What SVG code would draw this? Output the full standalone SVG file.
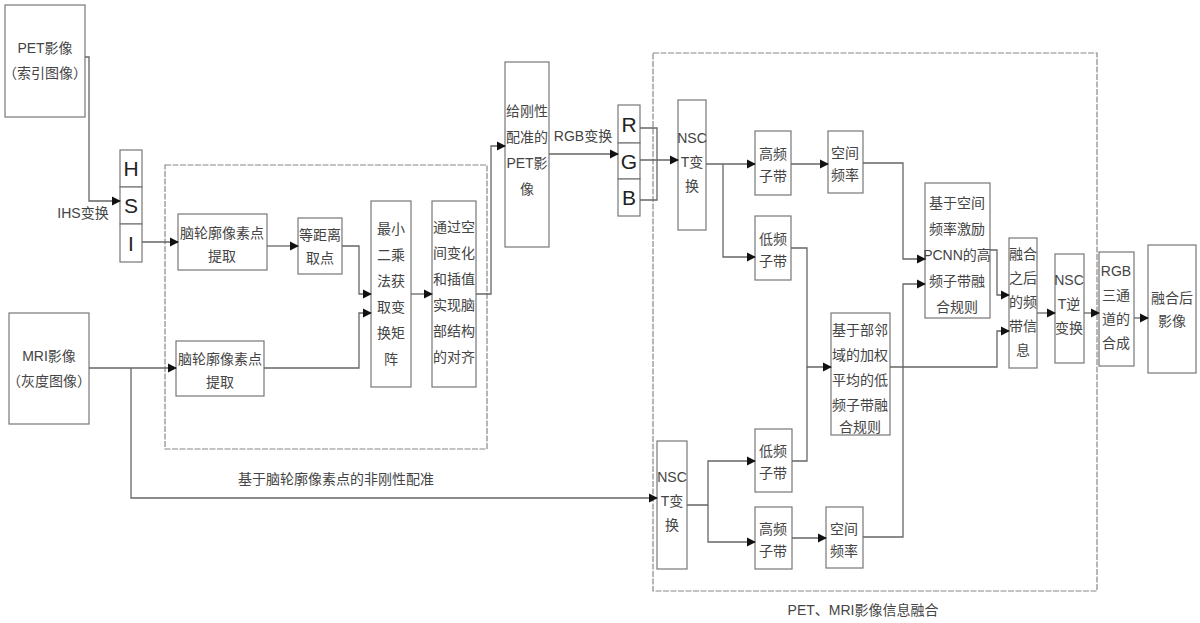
<svg xmlns="http://www.w3.org/2000/svg" width="1200" height="623" viewBox="0 0 1200 623">
<defs>
<marker id="a" viewBox="0 0 10 10" refX="9" refY="5" markerWidth="7" markerHeight="7" orient="auto"><path d="M0,0L10,5L0,10z" fill="#111"/></marker>
<style>
.b{fill:#fff;stroke:#777;stroke-width:1.2}
.g{fill:none;stroke:#888;stroke-width:1.2;stroke-dasharray:6 1.5}
.t{font-family:"Liberation Sans","Noto Sans CJK SC",sans-serif;font-size:14px;fill:#444;text-anchor:middle}
.l{fill:none;stroke:#666;stroke-width:1.3}
.big{font-size:21px;fill:#222}
</style>
</defs>
<rect width="1200" height="623" fill="#fff"/>
<g id="groups">
<rect class="g" x="165" y="165" width="322" height="284"/>
<rect class="g" x="653" y="53" width="444" height="538"/>
<text class="t" x="336" y="484" font-size="15">基于脑轮廓像素点的非刚性配准</text>
<text class="t" x="863" y="615">PET、MRI影像信息融合</text>
</g>
<g id="pet"><rect class="b" x="5" y="5" width="80" height="112"/><text class="t"><tspan x="45" y="53">PET影像</tspan><tspan x="45" y="78">（索引图像）</tspan></text></g>
<g id="mri"><rect class="b" x="9" y="313" width="80" height="111"/><text class="t"><tspan x="49" y="361">MRI影像</tspan><tspan x="49" y="386">（灰度图像）</tspan></text></g>
<g id="hsi"><rect class="b" x="120" y="150" width="22" height="37"/><rect class="b" x="120" y="187" width="22" height="37"/><rect class="b" x="120" y="224" width="22" height="38"/>
<text class="t big" x="131" y="176">H</text><text class="t big" x="131" y="213">S</text><text class="t big" x="131" y="251">I</text></g>
<text class="t" x="83" y="218">IHS变换</text>
<g id="ext1"><rect class="b" x="178" y="214" width="89" height="56"/><text class="t"><tspan x="222" y="238">脑轮廓像素点</tspan><tspan x="222" y="261">提取</tspan></text></g>
<g id="ext2"><rect class="b" x="176" y="341" width="88" height="55"/><text class="t"><tspan x="220" y="364">脑轮廓像素点</tspan><tspan x="220" y="387">提取</tspan></text></g>
<g id="equi"><rect class="b" x="298" y="218" width="44" height="56"/><text class="t"><tspan x="320" y="240">等距离</tspan><tspan x="320" y="263">取点</tspan></text></g>
<g id="ls"><rect class="b" x="371" y="201" width="40" height="186"/><text class="t"><tspan x="391" y="234">最小</tspan><tspan x="391" y="260">二乘</tspan><tspan x="391" y="286">法获</tspan><tspan x="391" y="312">取变</tspan><tspan x="391" y="338">换矩</tspan><tspan x="391" y="364">阵</tspan></text></g>
<g id="align"><rect class="b" x="432" y="201" width="44" height="186"/><text class="t"><tspan x="454" y="232">通过空</tspan><tspan x="454" y="258">间变化</tspan><tspan x="454" y="284">和插值</tspan><tspan x="454" y="310">实现脑</tspan><tspan x="454" y="336">部结构</tspan><tspan x="454" y="362">的对齐</tspan></text></g>
<g id="rigid"><rect class="b" x="505" y="62" width="44" height="185"/><text class="t"><tspan x="527" y="116">给刚性</tspan><tspan x="527" y="142">配准的</tspan><tspan x="527" y="168">PET影</tspan><tspan x="527" y="194">像</tspan></text></g>
<text class="t" x="583" y="141">RGB变换</text>
<g id="rgb"><rect class="b" x="618" y="105" width="22" height="38"/><rect class="b" x="618" y="143" width="22" height="36"/><rect class="b" x="618" y="179" width="22" height="37"/>
<text class="t big" x="629" y="132">R</text><text class="t big" x="629" y="169">G</text><text class="t big" x="629" y="205">B</text></g>
<g id="nsct1"><rect class="b" x="678" y="100" width="28" height="130"/><text class="t"><tspan x="692" y="143">NSC</tspan><tspan x="692" y="167">T变</tspan><tspan x="692" y="191">换</tspan></text></g>
<g id="hf1"><rect class="b" x="755" y="131" width="36" height="64"/><text class="t"><tspan x="773" y="159">高频</tspan><tspan x="773" y="181">子带</tspan></text></g>
<g id="lf1"><rect class="b" x="755" y="216" width="36" height="64"/><text class="t"><tspan x="773" y="244">低频</tspan><tspan x="773" y="266">子带</tspan></text></g>
<g id="sf1"><rect class="b" x="828" y="131" width="35" height="62"/><text class="t"><tspan x="845" y="158">空间</tspan><tspan x="845" y="180">频率</tspan></text></g>
<g id="pcnn"><rect class="b" x="925" y="183" width="65" height="135"/><text class="t"><tspan x="957" y="208">基于空间</tspan><tspan x="957" y="234">频率激励</tspan><tspan x="957" y="260">PCNN的高</tspan><tspan x="957" y="286">频子带融</tspan><tspan x="957" y="312">合规则</tspan></text></g>
<g id="lowrule"><rect class="b" x="831" y="313" width="59" height="122"/><text class="t"><tspan x="860" y="335">基于部邻</tspan><tspan x="860" y="360">域的加权</tspan><tspan x="860" y="385">平均的低</tspan><tspan x="860" y="410">频子带融</tspan><tspan x="860" y="432">合规则</tspan></text></g>
<g id="fused"><rect class="b" x="1009" y="238" width="28" height="130"/><text class="t"><tspan x="1023" y="259">融合</tspan><tspan x="1023" y="283">之后</tspan><tspan x="1023" y="307">的频</tspan><tspan x="1023" y="331">带信</tspan><tspan x="1023" y="355">息</tspan></text></g>
<g id="insct"><rect class="b" x="1055" y="254" width="29" height="109"/><text class="t"><tspan x="1069" y="285">NSC</tspan><tspan x="1069" y="309">T逆</tspan><tspan x="1069" y="333">变换</tspan></text></g>
<g id="rgbc"><rect class="b" x="1099" y="252" width="35" height="114"/><text class="t"><tspan x="1116" y="276">RGB</tspan><tspan x="1116" y="300">三通</tspan><tspan x="1116" y="324">道的</tspan><tspan x="1116" y="348">合成</tspan></text></g>
<g id="out"><rect class="b" x="1148" y="245" width="48" height="128"/><text class="t"><tspan x="1172" y="303">融合后</tspan><tspan x="1172" y="326">影像</tspan></text></g>
<g id="nsct2"><rect class="b" x="657" y="441" width="30" height="128"/><text class="t"><tspan x="672" y="482">NSC</tspan><tspan x="672" y="506">T变</tspan><tspan x="672" y="530">换</tspan></text></g>
<g id="lf2"><rect class="b" x="755" y="429" width="37" height="63"/><text class="t"><tspan x="773" y="456">低频</tspan><tspan x="773" y="478">子带</tspan></text></g>
<g id="hf2"><rect class="b" x="755" y="507" width="37" height="62"/><text class="t"><tspan x="773" y="534">高频</tspan><tspan x="773" y="556">子带</tspan></text></g>
<g id="sf2"><rect class="b" x="826" y="507" width="37" height="61"/><text class="t"><tspan x="844" y="534">空间</tspan><tspan x="844" y="556">频率</tspan></text></g>
<g id="connectors" class="l">
<path d="M85,57H89V201H120" marker-end="url(#a)"/>
<path d="M142,242H178" marker-end="url(#a)"/>
<path d="M267,246H298" marker-end="url(#a)"/>
<path d="M342,246H359V294H371" marker-end="url(#a)"/>
<path d="M89,368H176" marker-end="url(#a)"/>
<path d="M264,368H359V313H371" marker-end="url(#a)"/>
<path d="M411,294H432" marker-end="url(#a)"/>
<path d="M476,294H491V146H505" marker-end="url(#a)"/>
<path d="M549,154H618" marker-end="url(#a)"/>
<path d="M131,368V498H657" marker-end="url(#a)"/>
<path d="M640,128H657V200H640M640,160H678" marker-end="url(#a)"/>
<path d="M706,164H755" marker-end="url(#a)"/>
<path d="M723,164V257H755" marker-end="url(#a)"/>
<path d="M791,164H828" marker-end="url(#a)"/>
<path d="M863,163H903V259H925" marker-end="url(#a)"/>
<path d="M791,248H807V367H831" marker-end="url(#a)"/>
<path d="M792,461H807V367"/>
<path d="M863,537H903V284H925" marker-end="url(#a)"/>
<path d="M890,367H997V331H1009" marker-end="url(#a)"/>
<path d="M990,250H997V295H1009" marker-end="url(#a)"/>
<path d="M1037,313H1055" marker-end="url(#a)"/>
<path d="M1084,313H1099" marker-end="url(#a)"/>
<path d="M1134,318H1148" marker-end="url(#a)"/>
<path d="M687,505H708V461H755" marker-end="url(#a)"/>
<path d="M708,505V542H755" marker-end="url(#a)"/>
<path d="M792,538H826" marker-end="url(#a)"/>
</g>
</svg>
